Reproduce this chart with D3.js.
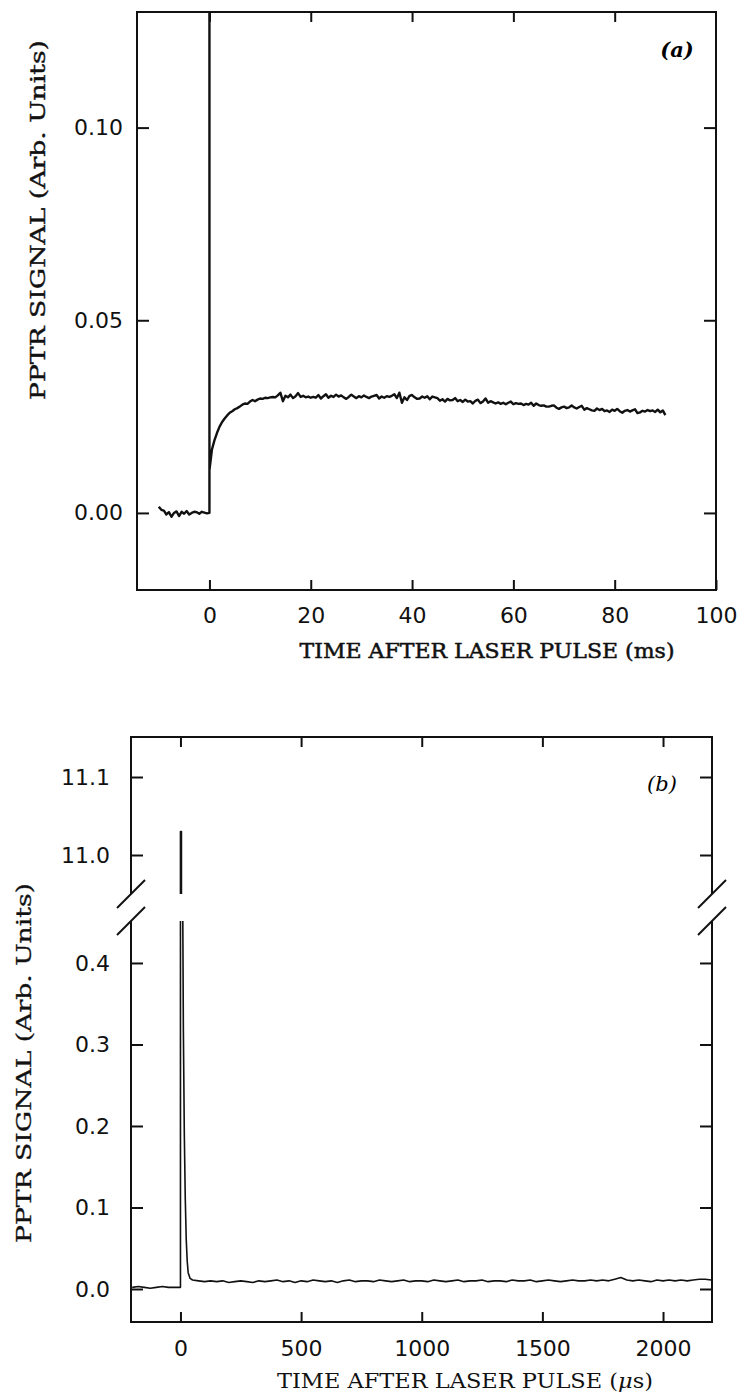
<!DOCTYPE html>
<html>
<head>
<meta charset="utf-8">
<script src="https://cdn.jsdelivr.net/npm/d3@7"></script>
<style>
  body { margin: 0; background: #fff; }
  .ticklab { font-family: "DejaVu Sans", sans-serif; font-size: 22px; fill: #111; }
  .title { font-family: "DejaVu Serif", serif; font-size: 20px; fill: #111; }
  .frame { stroke: #111; stroke-width: 2; fill: none; }
  .trace { stroke: #111; fill: none; stroke-linejoin: round; }
</style>
</head>
<body>
<svg id="chart" width="744" height="1397"></svg>
<script>
// ---- panel (a) : ms time base ----
var aXTicks = [0, 20, 40, 60, 80, 100];
var aYTicks = [0.00, 0.05, 0.10];
var aPreStart = -10, aPreStep = 0.5;
var aPreSignal = [0.0016, 0.0008, 0.0006, -0.0004, 0.0002, -0.0010, 0.0000, 0.0004, -0.0008, 0.0003,
  -0.0002, 0.0005, -0.0004, 0.0000, 0.0003, 0.0002, -0.0002, 0.0003, 0.0001, -0.0001, 0.0000];
var aSpikePeak = 0.2; // off scale
var aPostStart = 0, aPostStep = 0.5;
var aPostSignal = [
  0.0111, 0.0165, 0.0189, 0.0208, 0.0224, 0.0236, 0.0245, 0.0253, 0.0260, 0.0264,
  0.0269, 0.0272, 0.0276, 0.0281, 0.0284, 0.0283, 0.0289, 0.0293, 0.0290, 0.0294,
  0.0297, 0.0296, 0.0299, 0.0298, 0.0300, 0.0301, 0.0300, 0.0305, 0.0312, 0.0290,
  0.0304, 0.0300, 0.0307, 0.0298, 0.0303, 0.0311, 0.0301, 0.0304, 0.0300, 0.0302,
  0.0299, 0.0301, 0.0299, 0.0306, 0.0297, 0.0303, 0.0308, 0.0299, 0.0304, 0.0301,
  0.0307, 0.0302, 0.0305, 0.0300, 0.0296, 0.0301, 0.0307, 0.0302, 0.0298, 0.0303,
  0.0300, 0.0305, 0.0301, 0.0298, 0.0302, 0.0304, 0.0306, 0.0297, 0.0302, 0.0299,
  0.0303, 0.0301, 0.0304, 0.0308, 0.0298, 0.0312, 0.0286, 0.0300, 0.0293, 0.0304,
  0.0306, 0.0300, 0.0296, 0.0297, 0.0302, 0.0299, 0.0303, 0.0295, 0.0302, 0.0300,
  0.0298, 0.0291, 0.0295, 0.0289, 0.0296, 0.0292, 0.0293, 0.0298, 0.0290, 0.0293,
  0.0288, 0.0294, 0.0289, 0.0290, 0.0284, 0.0291, 0.0294, 0.0285, 0.0289, 0.0297,
  0.0286, 0.0290, 0.0287, 0.0284, 0.0287, 0.0283, 0.0286, 0.0282, 0.0286, 0.0289,
  0.0282, 0.0285, 0.0283, 0.0284, 0.0280, 0.0283, 0.0281, 0.0286, 0.0278, 0.0284,
  0.0280, 0.0278, 0.0279, 0.0276, 0.0276, 0.0278, 0.0279, 0.0273, 0.0270, 0.0274,
  0.0276, 0.0272, 0.0274, 0.0279, 0.0274, 0.0271, 0.0275, 0.0278, 0.0268, 0.0272,
  0.0269, 0.0266, 0.0265, 0.0271, 0.0267, 0.0270, 0.0264, 0.0266, 0.0262, 0.0268,
  0.0265, 0.0270, 0.0264, 0.0260, 0.0265, 0.0267, 0.0263, 0.0266, 0.0269, 0.0259,
  0.0261, 0.0265, 0.0263, 0.0267, 0.0264, 0.0266, 0.0262, 0.0268, 0.0261, 0.0266,
  0.0254];

// ---- panel (b) : µs time base, broken y axis ----
var bXTicks = [0, 500, 1000, 1500, 2000];
var bYTicksLow = [0.0, 0.1, 0.2, 0.3, 0.4];
var bYTicksHigh = [11.0, 11.1];
var bPreStart = -200, bPreStep = 25;
var bPreSignal = [0.002, 0.003, 0.002, 0.001, 0.002, 0.003, 0.002, 0.002, 0.002];
var bSpikeTime = [0, 4, 8, 12, 16, 20, 24, 28, 32, 40];
var bSpikeSignal = [11.03, 11.03, 0.55, 0.32, 0.19, 0.11, 0.06, 0.034, 0.020, 0.013];
var bPostStart = 50, bPostStep = 25;
var bPostSignal = [
  0.011, 0.010, 0.009, 0.010, 0.009, 0.010, 0.008, 0.009, 0.010, 0.009,
  0.008, 0.010, 0.009, 0.010, 0.011, 0.009, 0.010, 0.008, 0.010, 0.009,
  0.011, 0.010, 0.009, 0.010, 0.008, 0.010, 0.011, 0.009, 0.010, 0.010,
  0.009, 0.011, 0.010, 0.009, 0.010, 0.011, 0.009, 0.010, 0.010, 0.009,
  0.011, 0.010, 0.009, 0.010, 0.011, 0.009, 0.010, 0.010, 0.011, 0.009,
  0.010, 0.010, 0.009, 0.011, 0.010, 0.010, 0.011, 0.009, 0.010, 0.011,
  0.010, 0.009, 0.010, 0.011, 0.010, 0.010, 0.011, 0.010, 0.011, 0.010,
  0.012, 0.014, 0.011, 0.010, 0.011, 0.010, 0.009, 0.011, 0.010, 0.011,
  0.010, 0.011, 0.010, 0.011, 0.012, 0.012, 0.011];

var svg = d3.select("#chart");

function toPoints(start, step, values) {
  return values.map(function(v, i) { return [start + i * step, v]; });
}

function styleAxis(g) {
  g.select(".domain").remove();
  g.selectAll(".tick line").attr("stroke", "#111").attr("stroke-width", 2);
  g.selectAll(".tick text").attr("class", "ticklab").attr("fill", null);
}

// ================= panel (a) =================
var aBox = {left: 137, right: 716, top: 12, bottom: 590};
var xA = d3.scaleLinear().domain([-14.3, 100]).range([aBox.left, aBox.right]);
var yA = d3.scaleLinear().domain([-0.02, 0.13]).range([aBox.bottom, aBox.top]);

svg.append("clipPath").attr("id", "clipA")
  .append("rect")
  .attr("x", aBox.left).attr("y", aBox.top)
  .attr("width", aBox.right - aBox.left).attr("height", aBox.bottom - aBox.top);

var aPoints = toPoints(aPreStart, aPreStep, aPreSignal)
  .concat([[0, aSpikePeak]])
  .concat(toPoints(aPostStart, aPostStep, aPostSignal));

var lineA = d3.line().x(function(d) { return xA(d[0]); }).y(function(d) { return yA(d[1]); });

svg.append("path")
  .datum(aPoints)
  .attr("class", "trace")
  .attr("clip-path", "url(#clipA)")
  .attr("stroke-width", 2.4)
  .attr("d", lineA);

svg.append("rect").attr("class", "frame")
  .attr("x", aBox.left).attr("y", aBox.top)
  .attr("width", aBox.right - aBox.left).attr("height", aBox.bottom - aBox.top);

svg.append("g").attr("transform", "translate(0," + aBox.bottom + ")")
  .call(d3.axisBottom(xA).tickValues(aXTicks).tickSize(-10).tickPadding(17).tickFormat(d3.format("d")))
  .call(styleAxis);
svg.append("g").attr("transform", "translate(0," + aBox.top + ")")
  .call(d3.axisTop(xA).tickValues(aXTicks.slice(0, -1)).tickSize(-10).tickFormat(""))
  .call(styleAxis);
svg.append("g").attr("transform", "translate(" + aBox.left + ",0)")
  .call(d3.axisLeft(yA).tickValues(aYTicks).tickSize(-12).tickPadding(14).tickFormat(d3.format(".2f")))
  .call(styleAxis);
svg.append("g").attr("transform", "translate(" + aBox.right + ",0)")
  .call(d3.axisRight(yA).tickValues(aYTicks).tickSize(-12).tickFormat(""))
  .call(styleAxis);

svg.append("text").attr("class", "title")
  .attr("x", 487).attr("y", 658).attr("text-anchor", "middle")
  .attr("textLength", 375).attr("lengthAdjust", "spacingAndGlyphs")
  .attr("stroke", "#111").attr("stroke-width", 0.5)
  .text("TIME AFTER LASER PULSE (ms)");

svg.append("text").attr("class", "title")
  .attr("transform", "translate(45,220) rotate(-90)")
  .attr("text-anchor", "middle")
  .attr("textLength", 360).attr("lengthAdjust", "spacingAndGlyphs")
  .attr("stroke", "#111").attr("stroke-width", 0.4)
  .text("PPTR SIGNAL (Arb. Units)");

svg.append("text")
  .attr("x", 677).attr("y", 57).attr("text-anchor", "middle")
  .style("font-family", "'DejaVu Serif', serif").style("font-size", "21px")
  .style("font-style", "italic").style("font-weight", "bold")
  .text("(a)");

// ================= panel (b) =================
var bBox = {left: 131, right: 712, top: 737, bottom: 1322, breakTop: 894, breakBottom: 921};
var xB = d3.scaleLinear().domain([-205, 2203]).range([bBox.left, bBox.right]);
var yBHigh = d3.scaleLinear().domain([10.95, 11.1513]).range([bBox.breakTop, bBox.top]);
var yBLow = d3.scaleLinear().domain([-0.0405, 0.4515]).range([bBox.bottom, bBox.breakBottom]);

var bPoints = toPoints(bPreStart, bPreStep, bPreSignal)
  .concat(bSpikeTime.map(function(t, i) { return [t, bSpikeSignal[i]]; }))
  .concat(toPoints(bPostStart, bPostStep, bPostSignal));

[["clipBHigh", bBox.top, bBox.breakTop, yBHigh], ["clipBLow", bBox.breakBottom, bBox.bottom, yBLow]]
  .forEach(function(seg) {
    svg.append("clipPath").attr("id", seg[0])
      .append("rect")
      .attr("x", bBox.left).attr("y", seg[1])
      .attr("width", bBox.right - bBox.left).attr("height", seg[2] - seg[1]);
    var yS = seg[3];
    svg.append("path")
      .datum(bPoints)
      .attr("class", "trace")
      .attr("clip-path", "url(#" + seg[0] + ")")
      .attr("stroke-width", 1.6)
      .attr("d", d3.line().x(function(d) { return xB(d[0]); }).y(function(d) { return yS(d[1]); }));
  });

// frame with breaks on both side axes
var bFrame = svg.append("g").attr("class", "frame");
bFrame.append("line").attr("x1", bBox.left).attr("x2", bBox.right).attr("y1", bBox.top).attr("y2", bBox.top);
bFrame.append("line").attr("x1", bBox.left).attr("x2", bBox.right).attr("y1", bBox.bottom).attr("y2", bBox.bottom);
[bBox.left, bBox.right].forEach(function(x) {
  bFrame.append("line").attr("x1", x).attr("x2", x).attr("y1", bBox.top - 1).attr("y2", bBox.breakTop);
  bFrame.append("line").attr("x1", x).attr("x2", x).attr("y1", bBox.breakBottom).attr("y2", bBox.bottom + 1);
  [bBox.breakTop, bBox.breakBottom].forEach(function(y) {
    bFrame.append("line")
      .attr("x1", x - 14).attr("y1", y + 14)
      .attr("x2", x + 14).attr("y2", y - 14);
  });
});

svg.append("g").attr("transform", "translate(0," + bBox.bottom + ")")
  .call(d3.axisBottom(xB).tickValues(bXTicks).tickSize(-10).tickPadding(18).tickFormat(d3.format("d")))
  .call(styleAxis);
svg.append("g").attr("transform", "translate(0," + bBox.top + ")")
  .call(d3.axisTop(xB).tickValues(bXTicks).tickSize(-10).tickFormat(""))
  .call(styleAxis);
[[yBLow, bYTicksLow], [yBHigh, bYTicksHigh]].forEach(function(s) {
  svg.append("g").attr("transform", "translate(" + bBox.left + ",0)")
    .call(d3.axisLeft(s[0]).tickValues(s[1]).tickSize(-12).tickPadding(21).tickFormat(d3.format(".1f")))
    .call(styleAxis);
  svg.append("g").attr("transform", "translate(" + bBox.right + ",0)")
    .call(d3.axisRight(s[0]).tickValues(s[1]).tickSize(-12).tickFormat(""))
    .call(styleAxis);
});

var bTitle = svg.append("text").attr("class", "title")
  .attr("x", 465).attr("y", 1388).attr("text-anchor", "middle")
  .attr("textLength", 376).attr("lengthAdjust", "spacingAndGlyphs");
bTitle.append("tspan").text("TIME AFTER LASER PULSE (");
bTitle.append("tspan").style("font-style", "italic").text("\u03bc");
bTitle.append("tspan").text("s)");

svg.append("text").attr("class", "title")
  .attr("transform", "translate(31,1063) rotate(-90)")
  .attr("text-anchor", "middle")
  .attr("textLength", 360).attr("lengthAdjust", "spacingAndGlyphs")
  .attr("stroke", "#111").attr("stroke-width", 0.3)
  .text("PPTR SIGNAL (Arb. Units)");

svg.append("text")
  .attr("x", 662).attr("y", 791).attr("text-anchor", "middle")
  .style("font-family", "'DejaVu Serif', serif").style("font-size", "21px")
  .style("font-style", "italic")
  .text("(b)");
</script>
</body>
</html>
